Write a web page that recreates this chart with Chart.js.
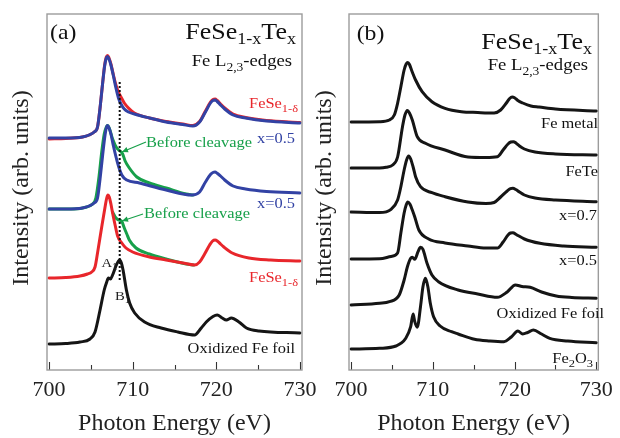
<!DOCTYPE html>
<html>
<head>
<meta charset="utf-8">
<script src="https://cdn.jsdelivr.net/npm/chart.js@4/dist/chart.umd.min.js"></script>
<style>
  html, body { margin: 0; padding: 0; background: #fff; }
  #wrap { position: relative; width: 620px; height: 438px; overflow: hidden; background: #fff; }
  canvas { position: absolute; top: 0; }
  #ca { left: 0; }
  #cb { left: 310px; }
</style>
</head>
<body>
<div id="wrap">
  <canvas id="ca" width="330" height="438"></canvas>
  <canvas id="cb" width="310" height="438"></canvas>
</div>
<script>
// ---------- data (photon energy eV, intensity arb. units with stacking offset) ----------
const xTicks = [700, 705, 710, 715, 720, 725, 730];

// panel (a)
const aX05Top = [[700,232],[702,232],[704,233],[704.8,235],[705.4,238],[705.8,243],[706.1,262],[706.4,286],[706.65,304],[706.85,312],[707.0,313.5],[707.15,311.5],[707.4,305],[707.7,294],[708.0,282],[708.3,272],[708.6,266],[709.0,261],[709.5,258],[710.2,256],[712,252],[714,248],[716,245.5],[717.2,244],[718,248],[718.7,258],[719.3,267],[719.6,269.5],[719.85,270],[720.1,268.5],[720.5,265],[721,261],[722,255],[723.5,252],[726,249],[730,247]];
const aFeSeTop = [[700,231],[702,231.5],[704,233],[704.8,235],[705.4,238],[705.8,243],[706.1,262],[706.4,286],[706.65,305],[706.85,313],[707.0,314.5],[707.15,312.5],[707.4,306],[707.7,295],[708.0,285],[708.3,278],[708.6,273],[709.0,267],[709.5,262],[710.2,257],[712,252],[714,248.5],[716,246],[717.2,244.5],[718,248.5],[718.7,259],[719.3,268],[719.6,270.5],[719.85,271],[720.1,269.5],[720.5,266],[721,262],[722,256],[723.5,252.5],[726,249.5],[730,247.5]];
const aX05Mid = [[700,161],[702,161],[704,162],[704.8,164],[705.4,167],[705.8,172],[706.1,191],[706.4,214],[706.65,232],[706.85,242],[707.0,244.5],[707.15,242.5],[707.4,236],[707.7,224],[708.2,207],[708.7,195],[709.3,190],[710.8,187],[714,180],[717.1,175],[718,178],[718.7,188],[719.3,195.5],[719.6,197.5],[719.85,198],[720.1,196.8],[720.5,194],[721,190],[722,184],[723.5,181],[726,178.5],[730,177]];
const aBeforeMid = [[700,161],[703,161],[704.5,163],[705.2,166],[705.6,172],[706.0,195],[706.3,218],[706.6,236],[706.85,243],[707.0,244.5],[707.2,242],[707.6,231],[708.1,222],[708.5,219],[708.8,216],[709.1,209],[709.6,202],[710.5,193],[712,187],[714,182],[716.4,176],[717.2,175]];
const aFeSeBot = [[700,92],[702,92.5],[703.7,94],[704.6,96],[705.1,98],[705.5,103],[705.8,117],[706.3,143],[706.7,163],[706.9,172],[707.05,175],[707.2,173],[707.4,166],[707.6,157],[707.9,145],[708.2,134],[708.7,127],[709.2,122],[710.0,118],[712,113],[714,110],[716,107],[717.4,105],[718,108],[718.6,116],[719.2,125],[719.55,129],[719.85,130],[720.15,128.8],[720.5,126],[720.9,123],[721.9,117],[723.9,112],[726.5,110],[730,109]];
const aBeforeBot = [[707.6,158],[708.0,152],[708.3,150],[708.7,148.5],[709.0,142],[709.3,136],[709.6,130],[710.4,122],[712,116],[714,111],[716.4,106],[717.3,105]];
const aFoil = [[700,26],[702,26.5],[703.7,28],[704.9,31],[705.5,38],[706.1,60],[706.6,80],[706.9,88],[707.1,92],[707.35,91],[707.6,95],[708.0,104],[708.3,109],[708.45,110],[708.65,107],[708.85,100],[709.25,80],[709.64,67],[710.24,57],[711.43,48],[713.4,42],[715.4,38],[717.4,35],[718.2,42],[718.8,48],[719.6,53.5],[720.1,55],[720.7,52],[721.2,50],[721.8,52],[722.7,48],[723.6,42],[725.1,39],[730,37]];
const aDotted = [[708.45,288],[708.45,89]];

// panel (b)
const bFeMetal = [[700,248],[703.5,248.3],[704.7,250],[705.3,255],[705.7,266.7],[706.1,283.3],[706.5,300],[706.75,306],[706.95,307.5],[707.15,305.5],[707.4,300],[707.9,290],[708.7,278.3],[709.9,268.3],[711.5,261.7],[713.5,258.3],[715.5,257.5],[717.5,257],[718.3,260],[719.0,267],[719.4,271.5],[719.7,273],[720.0,272.3],[720.4,269.5],[721,267],[722,264],[723,263],[725,261],[730,259]];
const bFeTe = [[700,202],[703.5,202],[704.3,202.7],[705.1,205],[705.7,213],[706.3,243.3],[706.6,255],[706.9,259.5],[707.15,257],[707.5,250],[708.1,233.3],[709.1,226.7],[711.5,220],[714.3,213],[716.5,212.5],[717.9,213.3],[718.6,220],[719.2,226],[719.55,228],[719.85,228.3],[720.2,226.8],[720.6,224],[721.2,221],[722.5,218],[725,216],[730,215]];
const bX07 = [[700,158],[703.5,157.5],[704.9,160.7],[705.7,170],[706.1,183.3],[706.5,200],[706.8,210],[707.05,214],[707.3,211],[707.6,203],[707.9,193.3],[708.5,183.3],[709.9,177.3],[711.5,173.3],[714.3,168],[716.5,166.5],[717.5,167.5],[718.3,173],[719.1,179],[719.5,181.3],[719.8,181.7],[720.15,180.5],[720.6,178],[721.2,175],[722.5,172],[725,170],[730,168.3]];
const bX05 = [[700,111],[703.5,111.3],[704.9,113.5],[705.7,117],[706.1,137],[706.5,157],[706.75,165],[706.95,168],[707.2,166],[707.5,160],[707.8,153],[708.3,140],[709.5,131],[711.5,127],[714.3,124],[716.5,122],[717.9,122],[718.6,128],[719.2,135],[719.5,137],[719.8,137.3],[720.2,135.5],[721.2,131],[723.1,126.7],[726,124],[730,122.7]];
const bFoil = [[700,65],[703.5,66.7],[704.7,68.3],[705.9,75],[706.5,90],[706.9,103.3],[707.3,111.7],[707.5,112.7],[707.8,110.7],[708.2,118.3],[708.5,122.7],[708.8,120.7],[709.3,106.7],[709.9,95],[710.7,88.3],[713.1,80],[715.5,76],[717.9,72.7],[719.1,78],[720.1,85],[720.9,83.5],[721.9,82.7],[723.3,78],[725.1,74],[727,72.5],[730,71.7]];
const bFe2O3 = [[700,21],[703.5,21.7],[705.5,24],[706.7,31.7],[707.3,43.3],[707.6,56],[707.8,48.3],[708.1,42.7],[708.5,63.3],[708.8,83.3],[709.1,91.7],[709.4,83.3],[709.7,66.7],[710.1,53.3],[710.9,44],[712.3,38.3],[713.1,36],[715.1,30.7],[717,29],[718.7,28.3],[719.6,33],[720.4,39],[721.0,36],[721.6,37.5],[722.3,40],[723.3,36],[724.3,31.7],[726.5,29],[730,27.3]];

// ---------- styling ----------
const FONT = 'Liberation Serif';
const CFONT = '"Liberation Serif", "Times New Roman", serif';
const SX = 1.13;
const RED = '#e8262b', BLUE = '#3242a4', GREEN = '#17a04a', BLACK = '#151515';

function pts(arr) { return arr.map(p => ({ x: p[0], y: p[1] })); }
function line(arr, color, w, extra) {
  return Object.assign({ data: pts(arr), borderColor: color, borderWidth: w, pointRadius: 0,
    fill: false, cubicInterpolationMode: 'monotone', borderJoinStyle: 'round', borderCapStyle: 'round' }, extra || {});
}

function drawRich(ctx, parts, x, y, align, color) {
  ctx.save();
  ctx.fillStyle = color;
  ctx.textBaseline = 'alphabetic';
  ctx.textAlign = 'left';
  const widths = parts.map(p => { ctx.font = p.s + 'px ' + CFONT; return ctx.measureText(p.t).width * SX; });
  const total = widths.reduce((a, b) => a + b, 0);
  let cx = align === 'right' ? x - total : x;
  parts.forEach((p, i) => {
    ctx.font = p.s + 'px ' + CFONT;
    ctx.save();
    ctx.translate(cx, y + (p.dy || 0));
    ctx.scale(SX, 1);
    ctx.fillText(p.t, 0, 0);
    ctx.restore();
    cx += widths[i];
  });
  ctx.restore();
}

function arrow(ctx, x1, y1, x2, y2, color) {
  ctx.save();
  ctx.strokeStyle = color; ctx.fillStyle = color; ctx.lineWidth = 1.3;
  ctx.beginPath(); ctx.moveTo(x1, y1); ctx.lineTo(x2, y2); ctx.stroke();
  const a = Math.atan2(y2 - y1, x2 - x1), L = 6, W = 2.8;
  ctx.beginPath();
  ctx.moveTo(x2, y2);
  ctx.lineTo(x2 - L * Math.cos(a) + W * Math.sin(a), y2 - L * Math.sin(a) - W * Math.cos(a));
  ctx.lineTo(x2 - L * Math.cos(a) - W * Math.sin(a), y2 - L * Math.sin(a) + W * Math.cos(a));
  ctx.closePath(); ctx.fill();
  ctx.restore();
}

function framePlugin(annotate, yTitleX) {
  return {
    id: 'frame',
    afterDraw(chart) {
      const ctx = chart.ctx, ca = chart.chartArea, xs = chart.scales.x;
      ctx.save();
      // tick marks, inside, pointing up
      ctx.strokeStyle = '#333'; ctx.lineWidth = 1.1;
      xTicks.forEach(v => {
        const px = Math.round(xs.getPixelForValue(v)) + 0.5;
        const len = v % 10 === 0 ? 8 : 5;
        ctx.beginPath(); ctx.moveTo(px, ca.bottom); ctx.lineTo(px, ca.bottom - len); ctx.stroke();
      });
      // frame
      ctx.strokeStyle = '#9c9c9c'; ctx.lineWidth = 1.4;
      ctx.strokeRect(ca.left, ca.top, ca.right - ca.left, ca.bottom - ca.top);
      // y title
      ctx.save();
      ctx.translate(yTitleX, 188);
      ctx.rotate(-Math.PI / 2);
      ctx.fillStyle = '#222';
      ctx.font = '24px ' + CFONT;
      ctx.textAlign = 'center'; ctx.textBaseline = 'middle';
      ctx.fillText('Intensity (arb. units)', 0, 0);
      ctx.restore();
      annotate(ctx);
      ctx.restore();
    }
  };
}

function makeChart(id, datasets, padL, padR, annotate, yTitleX) {
  return new Chart(document.getElementById(id), {
    type: 'line',
    data: { datasets },
    options: {
      responsive: false, animation: false, devicePixelRatio: 1,
      layout: { padding: { left: padL, right: padR, top: 14, bottom: 0 } },
      plugins: { legend: { display: false }, tooltip: { enabled: false } },
      scales: {
        x: {
          type: 'linear', min: 699.76, max: 730.24,
          afterBuildTicks: s => { s.ticks = xTicks.map(v => ({ value: v })); },
          afterFit: s => { s.height = 68; },
          grid: { display: false, drawTicks: false },
          border: { display: false },
          ticks: { autoSkip: false, maxRotation: 0, padding: 7, color: '#222',
            font: { family: CFONT, size: 22 },
            callback: v => (v % 10 === 0 ? String(v) : '') },
          title: { display: true, text: 'Photon Energy (eV)', color: '#222',
            font: { family: CFONT, size: 24 }, padding: { top: 0, bottom: 0 } }
        },
        y: { display: false, min: 0, max: 356 }
      }
    },
    plugins: [framePlugin(annotate, yTitleX)]
  });
}

// ---------- panel (a) ----------
makeChart('ca', [
  line(aDotted, '#111', 2, { borderDash: [2, 2], cubicInterpolationMode: 'default', tension: 0, borderCapStyle: 'butt' }),
  line(aX05Top, BLUE, 3),
  line(aFeSeTop, RED, 3),
  line(aX05Mid, BLUE, 3),
  line(aBeforeMid, GREEN, 3),
  line(aFeSeBot, RED, 3),
  line(aBeforeBot, GREEN, 3),
  line(aFoil, BLACK, 3)
], 47, 28, ctx => {
  drawRich(ctx, [{ t: '(a)', s: 21 }], 50, 39, 'left', '#111');
  drawRich(ctx, [{ t: 'FeSe', s: 23 }, { t: '1-x', s: 16, dy: 5 }, { t: 'Te', s: 23 }, { t: 'x', s: 16, dy: 5 }], 296, 39, 'right', '#111');
  drawRich(ctx, [{ t: 'Fe L', s: 16.5 }, { t: '2,3', s: 12, dy: 5 }, { t: '-edges', s: 16.5 }], 292, 66, 'right', '#111');
  drawRich(ctx, [{ t: 'FeSe', s: 14.5 }, { t: '1-δ', s: 11, dy: 4 }], 298, 108, 'right', RED);
  drawRich(ctx, [{ t: 'x=0.5', s: 14.5 }], 295, 143, 'right', BLUE);
  drawRich(ctx, [{ t: 'Before cleavage', s: 14.5 }], 146, 147, 'left', GREEN);
  arrow(ctx, 146, 142, 122, 152, GREEN);
  drawRich(ctx, [{ t: 'x=0.5', s: 14.5 }], 295, 208, 'right', BLUE);
  drawRich(ctx, [{ t: 'Before cleavage', s: 14.5 }], 144, 218, 'left', GREEN);
  arrow(ctx, 143, 214, 122, 221, GREEN);
  drawRich(ctx, [{ t: 'FeSe', s: 14.5 }, { t: '1-δ', s: 11, dy: 4 }], 298, 282, 'right', RED);
  drawRich(ctx, [{ t: 'A', s: 13 }, { t: '1', s: 10, dy: 3 }], 101.5, 267, 'left', '#222');
  drawRich(ctx, [{ t: 'B', s: 13 }, { t: '1', s: 10, dy: 3 }], 115, 300, 'left', '#222');
  drawRich(ctx, [{ t: 'Oxidized Fe foil', s: 14.5 }], 295, 353, 'right', '#111');
}, 22);

// ---------- panel (b) ----------
makeChart('cb', [
  line(bFeMetal, BLACK, 3),
  line(bFeTe, BLACK, 3),
  line(bX07, BLACK, 3),
  line(bX05, BLACK, 3),
  line(bFoil, BLACK, 3),
  line(bFe2O3, BLACK, 3)
], 39, 17, ctx => {
  drawRich(ctx, [{ t: '(b)', s: 21 }], 46.7, 40, 'left', '#111');
  drawRich(ctx, [{ t: 'FeSe', s: 23 }, { t: '1-x', s: 16, dy: 5 }, { t: 'Te', s: 23 }, { t: 'x', s: 16, dy: 5 }], 282, 49, 'right', '#111');
  drawRich(ctx, [{ t: 'Fe L', s: 16.5 }, { t: '2,3', s: 12, dy: 5 }, { t: '-edges', s: 16.5 }], 278, 70, 'right', '#111');
  drawRich(ctx, [{ t: 'Fe metal', s: 14.5 }], 288, 128, 'right', '#111');
  drawRich(ctx, [{ t: 'FeTe', s: 14.5 }], 288, 176, 'right', '#111');
  drawRich(ctx, [{ t: 'x=0.7', s: 14.5 }], 287, 220, 'right', '#111');
  drawRich(ctx, [{ t: 'x=0.5', s: 14.5 }], 287, 265, 'right', '#111');
  drawRich(ctx, [{ t: 'Oxidized Fe foil', s: 14.5 }], 294, 318, 'right', '#111');
  drawRich(ctx, [{ t: 'Fe', s: 14.5 }, { t: '2', s: 11, dy: 4 }, { t: 'O', s: 14.5 }, { t: '3', s: 11, dy: 4 }], 283, 363, 'right', '#111');
}, 15);
</script>
</body>
</html>
